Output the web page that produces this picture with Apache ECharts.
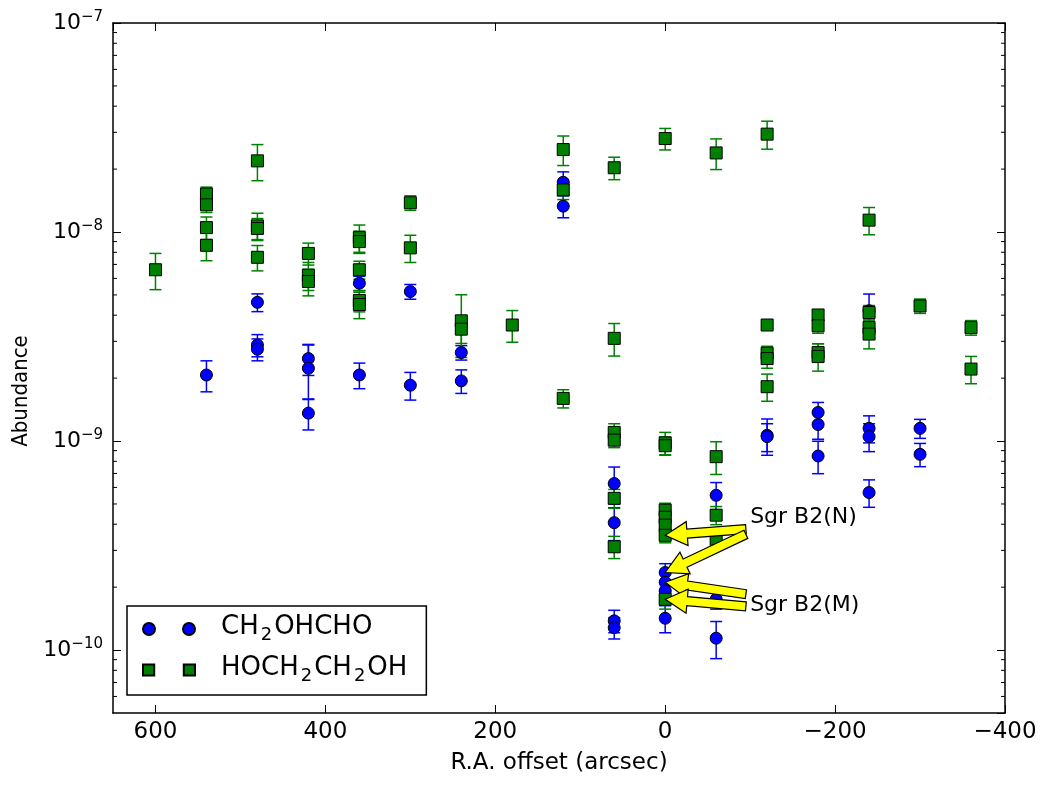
<!DOCTYPE html>
<html><head><meta charset="utf-8">
<script src="https://cdn.jsdelivr.net/npm/echarts@6/dist/echarts.min.js"></script>
<style>html,body{margin:0;padding:0;background:#fff}#c{width:1040px;height:785px}</style>
</head><body><div id="c"></div>
<script>
// ---- tick values ----
const xTicks = [600, 400, 200, 0, -200, -400];
const yMajorTicks = [1e-10, 1e-9, 1e-8, 1e-7];
const yMinorTicks = [6e-11, 7e-11, 8e-11, 9e-11,
  2e-10, 3e-10, 4e-10, 5e-10, 6e-10, 7e-10, 8e-10, 9e-10,
  2e-9, 3e-9, 4e-9, 5e-9, 6e-9, 7e-9, 8e-9, 9e-9,
  2e-8, 3e-8, 4e-8, 5e-8, 6e-8, 7e-8, 8e-8, 9e-8];

// ---- CH2OHCHO (glycolaldehyde) ----
const glyX = [540, 480, 480, 480, 420, 420, 420, 360, 360, 300, 300, 240, 240, 120, 120,
  60, 60, 60, 60, 0, 0, 0, 0, -60, -60, -60, -120, -120, -180, -180, -180,
  -240, -240, -240, -240, -300, -300];
const glyY = [2.07e-9, 4.61e-9, 2.88e-9, 2.75e-9, 2.48e-9, 2.23e-9, 1.36e-9, 5.69e-9, 2.07e-9, 5.19e-9, 1.85e-9, 2.65e-9, 1.94e-9, 1.73e-8, 1.33e-8,
  6.26e-10, 4.07e-10, 1.38e-10, 1.28e-10, 2.35e-10, 2.11e-10, 1.92e-10, 1.42e-10, 5.5e-10, 1.75e-10, 1.14e-10, 1.065e-9, 1.05e-9, 1.37e-9, 1.2e-9, 8.48e-10,
  4.2e-9, 1.15e-9, 1.05e-9, 5.67e-10, 1.15e-9, 8.64e-10];
const glyErr = [0.35e-9, 0.45e-9, 0.35e-9, 0.33e-9, 0.42e-9, 0.65e-9, 0.23e-9, 0.45e-9, 0.29e-9, 0.42e-9, 0.28e-9, 0.21e-9, 0.25e-9, 0.21e-8, 0.16e-8,
  1.25e-10, 0.73e-10, 0.17e-10, 0.15e-10, 0.24e-10, 0.21e-10, 0.19e-10, 0.21e-10, 0.83e-10, 0.18e-10, 0.23e-10, 0.21e-9, 0.16e-9, 0.16e-9, 0.18e-9, 1.5e-10,
  0.85e-9, 0.17e-9, 0.16e-9, 0.85e-10, 0.12e-9, 1.1e-10];

// ---- HOCH2CH2OH (ethylene glycol) ----
const eglX = [600, 540, 540, 540, 540, 480, 480, 480, 480, 420, 420, 420, 360, 360, 360, 360, 360, 300, 300, 240, 240, 180,
  120, 120, 120, 60, 60, 60, 60, 60, 60, 0, 0, 0, 0, 0, 0, 0, 0, -60, -60, -60, -60,
  -120, -120, -120, -120, -120, -180, -180, -180, -180, -240, -240, -240, -240, -300, -360, -360];
const eglY = [6.6e-9, 1.52e-8, 1.35e-8, 1.05e-8, 8.64e-9, 2.19e-8, 1.07e-8, 1.04e-8, 7.57e-9, 7.9e-9, 6.2e-9, 5.8e-9, 9.4e-9, 9.0e-9, 6.6e-9, 4.7e-9, 4.5e-9, 1.38e-8, 8.4e-9, 3.76e-9, 3.43e-9, 3.59e-9,
  2.48e-8, 1.59e-8, 1.6e-9, 2.03e-8, 3.1e-9, 1.1e-9, 1.01e-9, 5.32e-10, 3.12e-10, 2.8e-8, 9.8e-10, 9.5e-10, 4.67e-10, 4.32e-10, 3.96e-10, 3.54e-10, 1.75e-10, 2.39e-8, 8.42e-10, 4.42e-10, 3.39e-10,
  2.94e-8, 3.59e-9, 2.63e-9, 2.48e-9, 1.82e-9, 4.01e-9, 3.56e-9, 2.65e-9, 2.54e-9, 1.14e-8, 4.12e-9, 3.49e-9, 3.25e-9, 4.43e-9, 3.49e-9, 2.21e-9];
const eglErr = [1.3e-9, 0.12e-8, 0.11e-8, 0.13e-8, 1.35e-9, 0.43e-8, 0.16e-8, 0.12e-8, 1.05e-9, 0.95e-9, 0.95e-9, 0.85e-9, 1.4e-9, 1.1e-9, 0.65e-9, 0.55e-9, 0.65e-9, 0.11e-8, 1.25e-9, 1.25e-9, 0.5e-9, 0.62e-9,
  0.4e-8, 0.16e-8, 0.16e-9, 0.25e-8, 0.55e-9, 0.11e-9, 0.08e-9, 0.55e-10, 0.38e-10, 0.33e-8, 1.2e-10, 0.95e-10, 0.37e-10, 0.35e-10, 0.32e-10, 0.28e-10, 0.18e-10, 0.4e-8, 1.5e-10, 0.44e-10, 0.34e-10,
  0.45e-8, 0.1e-9, 0.21e-9, 0.25e-9, 0.27e-9, 0.2e-9, 0.28e-9, 0.27e-9, 0.38e-9, 0.17e-8, 0.33e-9, 0.35e-9, 0.49e-9, 0.35e-9, 0.28e-9, 0.33e-9];

// ---- annotations ----
const annLabels = ['Sgr B2(N)', 'Sgr B2(M)'];
const annX = [-100, -100];
const annY = [4.3e-10, 1.64e-10];
const arrowTailX = [-95, -95, -95, -95];
const arrowTailY = [3.79e-10, 3.58e-10, 1.85e-10, 1.62e-10];
const arrowTipX = [0, 0, 0, 0];
const arrowTipY = [3.54e-10, 2.35e-10, 2.11e-10, 1.75e-10];

const FONT = 'DejaVu Sans';
const chart = echarts.init(document.getElementById('c'), null, {renderer: 'canvas'});

function zip3(a, b, c) { return a.map((v, i) => [v, b[i], c[i]]); }

function errRender(color) {
  return function (params, api) {
    const x = api.value(0), y = api.value(1), e = api.value(2);
    const top = api.coord([x, y + e]);
    const bot = api.coord([x, y - e]);
    const hw = 6;
    const style = {stroke: color, lineWidth: 1.5, fill: null};
    return {type: 'group', children: [
      {type: 'line', shape: {x1: top[0], y1: top[1], x2: bot[0], y2: bot[1]}, style: style},
      {type: 'line', shape: {x1: top[0] - hw, y1: top[1], x2: top[0] + hw, y2: top[1]}, style: style},
      {type: 'line', shape: {x1: bot[0] - hw, y1: bot[1], x2: bot[0] + hw, y2: bot[1]}, style: style}
    ]};
  };
}

const circleIcon = 'path://M0,6a6,6 0 1,0 12,0a6,6 0 1,0 -12,0ZM40,6a6,6 0 1,0 12,0a6,6 0 1,0 -12,0Z';
const squareIcon = 'path://M0.5,0.5h11v11h-11ZM40.5,0.5h11v11h-11Z';

const xFmt = v => xTicks.includes(v) ? (v < 0 ? '\u2212' + (-v) : String(v)) : '';
const yFmt = v => {
  const e = Math.log10(v);
  const r = Math.round(e);
  if (Math.abs(e - r) > 1e-6) return '';
  if (!yMajorTicks.some(t => Math.abs(Math.log10(t) - r) < 1e-6)) return '';
  return '{b|10}{s|\u2212' + (-r) + '}';
};

const axisLine = {show: true, onZero: false, lineStyle: {color: '#000', width: 1.5}};
const tick = {show: true, inside: true, length: 8, lineStyle: {color: '#000', width: 1}};

const option = {
  animation: false,
  backgroundColor: '#fff',
  textStyle: {fontFamily: FONT},
  grid: {left: 113, right: 35, top: 23, bottom: 72, containLabel: false},
  xAxis: [{
    type: 'value', inverse: true, min: -400, max: 650, interval: 200,
    axisLine: axisLine, axisTick: tick, splitLine: {show: false},
    axisLabel: {formatter: xFmt, showMaxLabel: false, color: '#000', fontSize: 23, margin: 8, fontFamily: FONT},
    name: 'R.A. offset (arcsec)', nameLocation: 'middle', nameGap: 39,
    nameTextStyle: {color: '#000', fontSize: 23, fontFamily: FONT}
  }, {
    type: 'value', inverse: true, min: -400, max: 650, interval: 200, position: 'top',
    axisLine: axisLine, axisTick: tick, splitLine: {show: false}, axisLabel: {show: false}
  }],
  yAxis: [{
    type: 'log', logBase: 10, min: 5e-11, max: 1e-7,
    axisLine: axisLine, axisTick: tick, splitLine: {show: false}, minorTick: {show: false},
    axisLabel: {formatter: yFmt, showMinLabel: false, color: '#000', margin: 10,
      rich: {b: {fontSize: 22, fontFamily: FONT, color: '#000', lineHeight: 26},
             s: {fontSize: 15, fontFamily: FONT, color: '#000', verticalAlign: 'top'}}},
    name: 'Abundance', nameLocation: 'middle', nameGap: 80, nameRotate: 90,
    nameTextStyle: {color: '#000', fontSize: 22, fontFamily: 'Liberation Sans Narrow, DejaVu Sans Condensed, DejaVu Sans',
      padding: [0, 46, 0, 0]}
  }, {
    type: 'log', logBase: 10, min: 5e-11, max: 1e-7, position: 'right',
    axisLine: axisLine, axisTick: tick, splitLine: {show: false}, axisLabel: {show: false}
  }],
  legend: {
    orient: 'vertical', left: 127, top: 606,
    padding: [8, 19, 10, 15], itemGap: 11,
    itemWidth: 52, itemHeight: 12,
    borderColor: '#000', borderWidth: 1.5, borderRadius: 0, backgroundColor: '#fff',
    data: [{name: 'CH2OHCHO', icon: circleIcon}, {name: 'HOCH2CH2OH', icon: squareIcon}],
    formatter: n => n === 'CH2OHCHO' ? '{g|}{t|CH}{sub|2}{t|OHCHO}' : '{g|}{t|HOCH}{sub|2}{t|CH}{sub|2}{t|OH}',
    textStyle: {color: '#000', fontSize: 26, lineHeight: 30, fontFamily: FONT,
      rich: {g: {width: 21, height: 30},
             t: {fontSize: 26, fontFamily: FONT, color: '#000', lineHeight: 26, verticalAlign: 'top'},
             sub: {fontSize: 18, fontFamily: FONT, color: '#000', lineHeight: 18, verticalAlign: 'top', padding: [12, 2, 0, 2]}}}
  },
  series: [
    {
      type: 'custom', name: 'minorTicks', silent: true,
      data: yMinorTicks.map(v => [0, v]),
      renderItem: function (params, api) {
        const cs = params.coordSys;
        const p = api.coord([0, api.value(1)]);
        const st = {stroke: '#000', lineWidth: 1};
        return {type: 'group', children: [
          {type: 'line', shape: {x1: cs.x, y1: p[1], x2: cs.x + 4, y2: p[1]}, style: st},
          {type: 'line', shape: {x1: cs.x + cs.width - 4, y1: p[1], x2: cs.x + cs.width, y2: p[1]}, style: st}
        ]};
      }
    },
    {type: 'custom', name: 'glyErr', silent: true, data: zip3(glyX, glyY, glyErr), renderItem: errRender('#0000ff')},
    {
      type: 'scatter', name: 'CH2OHCHO', symbol: 'circle', symbolSize: 12,
      data: glyX.map((x, i) => [x, glyY[i]]),
      itemStyle: {color: '#0000ff', borderColor: '#000', borderWidth: 1, opacity: 1}
    },
    {type: 'custom', name: 'eglErr', silent: true, data: zip3(eglX, eglY, eglErr), renderItem: errRender('#008000')},
    {
      type: 'scatter', name: 'HOCH2CH2OH', symbol: 'rect', symbolSize: 12,
      data: eglX.map((x, i) => [x, eglY[i]]),
      itemStyle: {color: '#008000', borderColor: '#000', borderWidth: 1, opacity: 1}
    },
    {
      type: 'custom', name: 'arrows', silent: true, z: 5,
      data: arrowTailX.map((x, i) => [x, arrowTailY[i], arrowTipX[i], arrowTipY[i]]),
      renderItem: function (params, api) {
        const T = api.coord([api.value(0), api.value(1)]);
        const P = api.coord([api.value(2), api.value(3)]);
        const dx = P[0] - T[0], dy = P[1] - T[1];
        const len = Math.sqrt(dx * dx + dy * dy);
        const ux = dx / len, uy = dy / len;
        const nx = -uy, ny = ux;
        const L = 22, H = 12, W = 4.5;
        const Bx = P[0] - ux * L, By = P[1] - uy * L;
        const pts = [
          [T[0] + nx * W, T[1] + ny * W], [Bx + nx * W, By + ny * W], [Bx + nx * H, By + ny * H],
          [P[0], P[1]],
          [Bx - nx * H, By - ny * H], [Bx - nx * W, By - ny * W], [T[0] - nx * W, T[1] - ny * W]
        ];
        return {type: 'polygon', shape: {points: pts}, style: {fill: '#ffff00', stroke: '#000', lineWidth: 1.2}};
      }
    },
    {
      type: 'custom', name: 'annText', silent: true, z: 6,
      data: annX.map((x, i) => [x, annY[i]]),
      renderItem: function (params, api) {
        const p = api.coord([api.value(0), api.value(1)]);
        return {type: 'text', x: p[0], y: p[1], style: {text: annLabels[params.dataIndex], fill: '#000',
          fontSize: 22, fontFamily: FONT, align: 'left', verticalAlign: 'middle'}};
      }
    }
  ]
};
chart.setOption(option);
</script>
</body></html>
